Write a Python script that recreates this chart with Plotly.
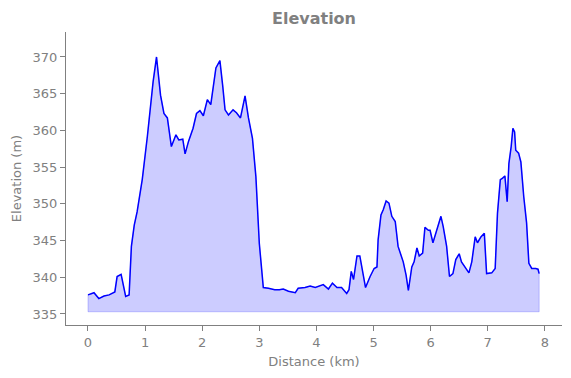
import plotly.graph_objects as go

distance_km = [0.00, 0.05, 0.105, 0.19, 0.28, 0.37, 0.47, 0.51, 0.58, 0.66, 0.72, 0.76, 0.81, 0.86, 0.95,
               1.04, 1.10, 1.14, 1.20, 1.27, 1.33, 1.39, 1.46, 1.54, 1.59, 1.63, 1.66, 1.70, 1.76, 1.84,
               1.90, 1.96, 2.02, 2.09, 2.15, 2.24, 2.31, 2.36, 2.40, 2.46, 2.54, 2.60, 2.67, 2.75, 2.81,
               2.88, 2.94, 3.00, 3.07, 3.16, 3.27, 3.35, 3.42, 3.51, 3.63, 3.68, 3.80, 3.89, 3.98, 4.12,
               4.21, 4.28, 4.36, 4.44, 4.53, 4.57, 4.61, 4.65, 4.71, 4.76, 4.80, 4.86, 4.94, 5.01, 5.06,
               5.08, 5.13, 5.17, 5.22, 5.27, 5.32, 5.38, 5.43, 5.47, 5.52, 5.57, 5.61, 5.67, 5.71, 5.76,
               5.80, 5.86, 5.90, 5.96, 5.99, 6.04, 6.11, 6.18, 6.22, 6.28, 6.33, 6.39, 6.44, 6.50, 6.54,
               6.60, 6.67, 6.72, 6.78, 6.82, 6.88, 6.94, 6.98, 7.07, 7.13, 7.17, 7.22, 7.26, 7.30, 7.34,
               7.37, 7.41, 7.44, 7.47, 7.49, 7.54, 7.58, 7.63, 7.68, 7.72, 7.77, 7.84, 7.88, 7.90]
elevation_m = [337.6, 337.7, 337.9, 337.1, 337.45, 337.6, 338.0, 340.1, 340.4, 337.4, 337.6, 344.2, 347.1, 348.9, 353.3,
               359.2, 364.2, 366.6, 370.0, 364.8, 362.3, 361.7, 357.8, 359.4, 358.7, 358.7, 358.8, 356.8, 358.5, 360.3,
               362.3, 362.7, 362.0, 364.2, 363.5, 368.5, 369.5, 366.0, 362.8, 362.1, 362.8, 362.4, 361.7, 364.7, 361.7,
               358.9, 353.7, 344.6, 338.6, 338.5, 338.3, 338.3, 338.4, 338.1, 337.9, 338.5, 338.6, 338.8, 338.6, 339.0,
               338.4, 339.2, 338.6, 338.6, 337.8, 338.3, 340.8, 339.7, 342.9, 342.9, 341.1, 338.6, 340.1, 341.2, 341.4,
               345.1, 348.5, 349.2, 350.4, 350.1, 348.3, 347.6, 344.2, 343.3, 342.1, 340.3, 338.2, 341.4, 342.1, 344.0,
               342.9, 343.3, 346.8, 346.4, 346.4, 344.7, 346.5, 348.3, 346.9, 344.2, 340.1, 340.5, 342.4, 343.2, 342.1,
               341.4, 340.6, 342.1, 345.5, 344.7, 345.5, 346.0, 340.5, 340.6, 341.2, 348.7, 353.3, 353.5, 353.8, 350.3,
               355.5, 357.8, 360.3, 359.8, 357.3, 356.9, 355.7, 351.0, 347.4, 341.9, 341.2, 341.2, 341.1, 340.5]
fill_base_m = 335.3

grey = "#808080"
font = "DejaVu Sans"

poly_x = [distance_km[0]] + distance_km + [distance_km[-1], distance_km[0]]
poly_y = [fill_base_m] + elevation_m + [fill_base_m, fill_base_m]

fig = go.Figure()
fig.add_trace(go.Scatter(x=poly_x, y=poly_y, mode="lines", fill="toself",
                         fillcolor="rgba(0,0,255,0.2)",
                         line=dict(color="rgba(0,0,255,0.2)", width=1),
                         hoverinfo="skip", showlegend=False))
fig.add_trace(go.Scatter(x=distance_km, y=elevation_m, mode="lines",
                         line=dict(color="#0000ff", width=1.5), showlegend=False))

fig.update_layout(
    width=563, height=370,
    margin=dict(l=58, r=9, t=24, b=53, autoexpand=False),
    paper_bgcolor="white", plot_bgcolor="white",
    title=dict(text="<b>Elevation</b>", x=0.5, xanchor="center", xref="paper",
               y=1 - 10/370, yanchor="middle", yref="container",
               font=dict(family=font, size=16, color=grey)),
    font=dict(family=font, size=13, color=grey),
)
fig.update_xaxes(range=[-0.385, 8.3], tickvals=[0, 1, 2, 3, 4, 5, 6, 7, 8],
                 showgrid=False, zeroline=False, showline=True, linecolor=grey, linewidth=1,
                 ticks="outside", ticklen=5, tickcolor=grey, tickfont=dict(size=13, color=grey),
                 automargin=False,
                 title=dict(text="Distance (km)", font=dict(size=13, color=grey), standoff=8))
fig.update_yaxes(range=[333.5, 373.4], tickvals=[335, 340, 345, 350, 355, 360, 365, 370],
                 showgrid=False, zeroline=False, showline=True, linecolor=grey, linewidth=1,
                 ticks="outside", ticklen=5, tickcolor=grey, tickfont=dict(size=13, color=grey),
                 automargin=False,
                 title=dict(text="Elevation (m)", font=dict(size=13, color=grey), standoff=8))

fig.write_html("out.html")
